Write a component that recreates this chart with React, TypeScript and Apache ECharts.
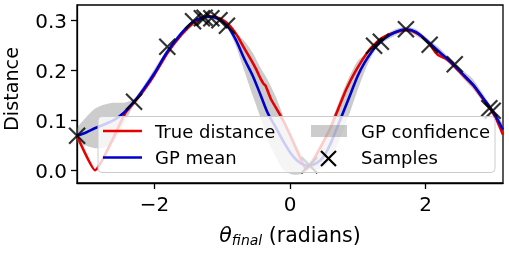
import React, { useEffect, useRef } from "react";
import * as echarts from "echarts";

const PI = Math.PI;

// GP posterior (mean and confidence band)
const gpX = [-3.1416, -3.0, -2.88, -2.75, -2.6, -2.45, -2.3, -2.15, -2.0, -1.81, -1.6, -1.43, -1.3, -1.17, -1.04, -0.92, -0.8, -0.675, -0.55, -0.43, -0.33, -0.2, -0.1, 0.0, 0.1, 0.2, 0.28, 0.4, 0.5, 0.6, 0.7, 0.8, 0.9, 1.0, 1.1, 1.2, 1.29, 1.4, 1.55, 1.71, 1.86, 2.06, 2.2, 2.4, 2.55, 2.7, 2.85, 2.96, 3.05, 3.1416];
const gpMean = [0.070, 0.077, 0.085, 0.092, 0.101, 0.116, 0.138, 0.165, 0.195, 0.238, 0.275, 0.298, 0.306, 0.308, 0.302, 0.289, 0.262, 0.224, 0.190, 0.150, 0.116, 0.084, 0.059, 0.037, 0.021, 0.012, 0.010, 0.016, 0.029, 0.055, 0.088, 0.122, 0.156, 0.190, 0.216, 0.237, 0.252, 0.265, 0.277, 0.283, 0.277, 0.255, 0.238, 0.214, 0.193, 0.172, 0.145, 0.125, 0.105, 0.082];
const gpLower = [0.057, 0.050, 0.045, 0.046, 0.058, 0.093, 0.132, 0.157, 0.187, 0.233, 0.270, 0.294, 0.302, 0.304, 0.298, 0.284, 0.250, 0.200, 0.150, 0.105, 0.062, 0.025, 0.002, -0.006, -0.008, -0.005, 0.002, 0.002, 0.008, 0.024, 0.052, 0.086, 0.123, 0.162, 0.198, 0.228, 0.247, 0.259, 0.270, 0.278, 0.270, 0.250, 0.230, 0.209, 0.185, 0.163, 0.137, 0.120, 0.098, 0.072];
const gpUpper = [0.084, 0.108, 0.124, 0.132, 0.136, 0.136, 0.144, 0.172, 0.204, 0.243, 0.280, 0.302, 0.310, 0.312, 0.306, 0.294, 0.276, 0.260, 0.236, 0.205, 0.182, 0.145, 0.110, 0.076, 0.048, 0.028, 0.020, 0.035, 0.060, 0.095, 0.130, 0.165, 0.195, 0.220, 0.232, 0.245, 0.258, 0.271, 0.283, 0.288, 0.283, 0.261, 0.246, 0.219, 0.201, 0.183, 0.153, 0.130, 0.112, 0.092];

// True distance
const trueX = [-3.1416, -2.876, -2.43, -2.3, -2.15, -2.0, -1.81, -1.6, -1.43, -1.3, -1.2, -1.1, -0.95, -0.85, -0.77, -0.68, -0.576, -0.5, -0.43, -0.39, -0.36, -0.28, -0.16, -0.01, 0.14, 0.236, 0.33, 0.45, 0.605, 0.703, 0.827, 0.975, 1.17, 1.32, 1.45, 1.61, 1.71, 1.81, 1.95, 2.06, 2.15, 2.2, 2.3, 2.4, 2.55, 2.7, 2.85, 2.96, 3.05, 3.1416];
const trueY = [0.070, 0.001, 0.115, 0.136, 0.162, 0.192, 0.235, 0.272, 0.295, 0.306, 0.309, 0.308, 0.298, 0.284, 0.268, 0.246, 0.222, 0.203, 0.183, 0.174, 0.170, 0.143, 0.115, 0.075, 0.029, 0.003, 0.018, 0.047, 0.088, 0.121, 0.162, 0.201, 0.242, 0.262, 0.272, 0.279, 0.281, 0.279, 0.268, 0.253, 0.236, 0.230, 0.224, 0.212, 0.191, 0.171, 0.143, 0.123, 0.101, 0.072];

// Samples
const sampleX = [-3.14, -2.30, -1.81, -1.43, -1.30, -1.26, -1.16, -1.04, -0.93, 0.285, 1.24, 1.34, 1.71, 2.06, 2.43, 2.94, 2.99];
const sampleY = [0.070, 0.138, 0.248, 0.299, 0.305, 0.306, 0.305, 0.301, 0.290, 0.011, 0.250, 0.258, 0.283, 0.252, 0.213, 0.125, 0.120];

const xTicks = [-2, 0, 2];
const yTicks = [0, 0.1, 0.2, 0.3];
const legendLabels = ["True distance", "GP mean", "GP confidence", "Samples"];
const yLabel = "Distance";

const FONT = "DejaVu Sans";
const TICK_FS = 20;
const LABEL_FS = 20.5;
const LEG_FS = 18;
const RED = "#e60000";
const BLUE = "#0000cd";
const BAND = "rgba(128,128,128,0.4)";
const X_PATH = "path://M0,0L10,10M10,0L0,10";

function fmtX(v: number) {
  return v < 0 ? "\u2212" + Math.abs(v) : String(v);
}

function bandRenderItem(params: any, api: any) {
  if (params.dataIndex !== 0) return null;
  const upper = gpX.map((x, i) => api.coord([x, gpUpper[i]]));
  const lower = gpX.map((x, i) => api.coord([x, gpLower[i]])).reverse();
  return {
    type: "polygon",
    shape: { points: upper.concat(lower), smooth: 0.25 },
    style: { fill: BAND, stroke: "none" },
  };
}

function buildOption() {
  const axisCommon = {
    axisLine: { show: true, onZero: false, lineStyle: { color: "#000", width: 1.3 } },
    splitLine: { show: false },
  };
  const lblStyle = { color: "#000", fontSize: TICK_FS, fontFamily: FONT };
  const legText = (x: number, y: number, text: string) => ({
    type: "text",
    z: 101,
    x,
    y,
    style: { text, fontSize: LEG_FS, fontFamily: FONT, fill: "#000", verticalAlign: "middle" },
  });
  return {
    animation: false,
    grid: {
      left: 77,
      right: 6,
      top: 5,
      bottom: 71,
      show: true,
      borderColor: "#000",
      borderWidth: 1.3,
      backgroundColor: "transparent",
      outerBoundsMode: "none",
    },
    xAxis: {
      type: "value",
      min: -PI,
      max: PI,
      ...axisCommon,
      axisTick: { show: true, customValues: xTicks, length: 6, lineStyle: { color: "#000", width: 1.3 } },
      axisLabel: { customValues: xTicks, formatter: fmtX, margin: 11, ...lblStyle },
    },
    yAxis: {
      type: "value",
      min: -0.0246,
      max: 0.3314,
      ...axisCommon,
      axisTick: { show: true, customValues: yTicks, length: 6, lineStyle: { color: "#000", width: 1.3 } },
      axisLabel: { customValues: yTicks, formatter: (v: number) => v.toFixed(1), margin: 10, ...lblStyle },
    },
    series: [
      {
        type: "custom",
        name: "GP confidence",
        data: gpX.map((x, i) => [x, gpLower[i], gpUpper[i]]),
        encode: { x: 0, y: [1, 2] },
        renderItem: bandRenderItem,
        clip: true,
        silent: true,
        z: 1,
      },
      {
        type: "line",
        name: "True distance",
        data: trueX.map((x, i) => [x, trueY[i]]),
        symbol: "none",
        smooth: 0.15,
        lineStyle: { color: RED, width: 2.6 },
        z: 3,
      },
      {
        type: "line",
        name: "GP mean",
        data: gpX.map((x, i) => [x, gpMean[i]]),
        symbol: "none",
        smooth: 0.3,
        lineStyle: { color: BLUE, width: 2.6 },
        z: 4,
      },
      {
        type: "scatter",
        name: "Samples",
        data: sampleX.map((x, i) => [x, sampleY[i]]),
        symbol: X_PATH,
        symbolSize: 16,
        itemStyle: { color: "rgba(0,0,0,0)", borderColor: "#000", borderWidth: 2.2 },
        z: 5,
      },
    ],
    graphic: [
      {
        type: "text",
        x: 11,
        y: 89,
        rotation: PI / 2,
        style: { text: yLabel, fontSize: 19.2, fontFamily: FONT, fill: "#000", align: "center", verticalAlign: "middle" },
      },
      {
        type: "text",
        x: 290,
        y: 235,
        style: {
          text: "{t|\u03b8}{s|final}{r| (radians)}",
          fontSize: LABEL_FS,
          fontFamily: FONT,
          align: "center",
          verticalAlign: "middle",
          fill: "#000",
          rich: {
            t: { fontSize: LABEL_FS, fontStyle: "italic", fontFamily: FONT, lineHeight: 24, fill: "#000" },
            s: { fontSize: 14, fontStyle: "italic", fontFamily: FONT, lineHeight: 13, verticalAlign: "bottom", fill: "#000" },
            r: { fontSize: LABEL_FS, fontFamily: FONT, lineHeight: 24, fill: "#000" },
          },
        },
      },
      {
        type: "rect",
        z: 100,
        shape: { x: 98, y: 116.5, width: 397, height: 56, r: 4 },
        style: { fill: "rgba(255,255,255,0.8)", stroke: "#cccccc", lineWidth: 1 },
      },
      { type: "line", z: 101, shape: { x1: 103, y1: 131, x2: 142, y2: 131 }, style: { stroke: RED, lineWidth: 2.6 } },
      { type: "line", z: 101, shape: { x1: 103, y1: 157.5, x2: 142, y2: 157.5 }, style: { stroke: BLUE, lineWidth: 2.6 } },
      { type: "rect", z: 101, shape: { x: 311, y: 125, width: 36, height: 12 }, style: { fill: BAND } },
      { type: "line", z: 101, shape: { x1: 321, y1: 151, x2: 336, y2: 166 }, style: { stroke: "#000", lineWidth: 2.2 } },
      { type: "line", z: 101, shape: { x1: 321, y1: 166, x2: 336, y2: 151 }, style: { stroke: "#000", lineWidth: 2.2 } },
      legText(155, 131, legendLabels[0]),
      legText(155, 157.5, legendLabels[1]),
      legText(361, 131, legendLabels[2]),
      legText(361, 157.5, legendLabels[3]),
    ],
  };
}

export default function App() {
  const ref = useRef<HTMLDivElement>(null);
  useEffect(() => {
    const chart = echarts.init(ref.current!, null, { renderer: "svg" });
    chart.setOption(buildOption() as any);
    return () => chart.dispose();
  }, []);
  return <div ref={ref} style={{ position: "fixed", left: 0, top: 0, width: 509, height: 254 }} />;
}
